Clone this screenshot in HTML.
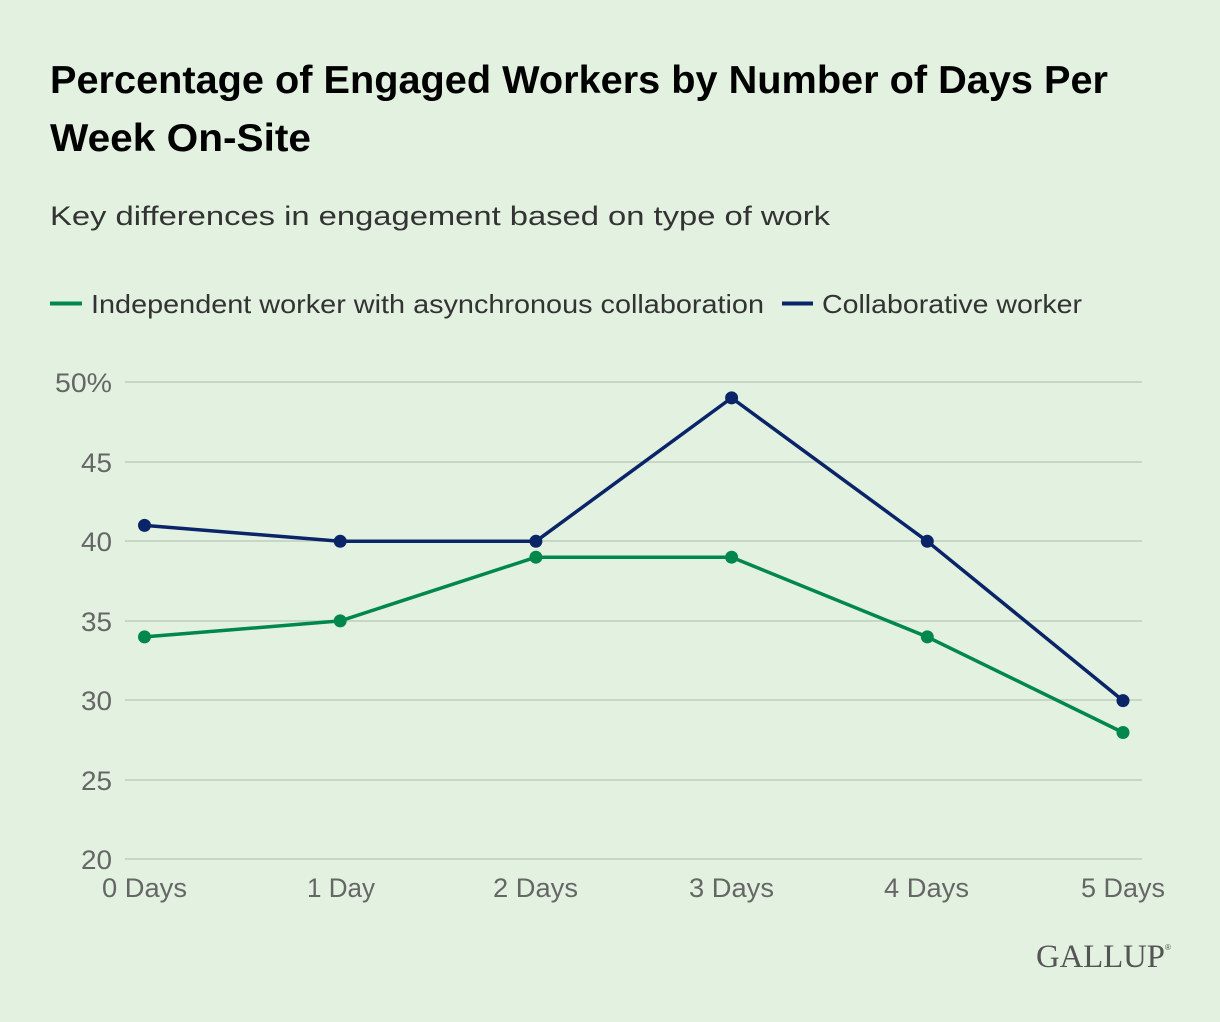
<!DOCTYPE html>
<html><head><meta charset="utf-8"><style>
html,body{margin:0;padding:0;background:#e3f1e1;}
svg{display:block;}
</style></head><body>
<svg width="1220" height="1022" viewBox="0 0 1220 1022" xmlns="http://www.w3.org/2000/svg" font-family="'Liberation Sans', sans-serif">
<rect width="1220" height="1022" fill="#e3f1e1"/>
<text x="50" y="93" font-size="38.5" font-weight="bold" fill="#000" textLength="1058" lengthAdjust="spacingAndGlyphs">Percentage of Engaged Workers by Number of Days Per</text>
<text x="50" y="151" font-size="38.5" font-weight="bold" fill="#000" textLength="261" lengthAdjust="spacingAndGlyphs">Week On-Site</text>
<text x="50" y="225" font-size="27" fill="#333" textLength="780" lengthAdjust="spacingAndGlyphs">Key differences in engagement based on type of work</text>
<line x1="50" y1="303.5" x2="82" y2="303.5" stroke="#00874b" stroke-width="4"/>
<text x="91" y="313" font-size="26" fill="#333" textLength="673" lengthAdjust="spacingAndGlyphs">Independent worker with asynchronous collaboration</text>
<line x1="782" y1="303.5" x2="813" y2="303.5" stroke="#0a2468" stroke-width="4"/>
<text x="822" y="313" font-size="26" fill="#333" textLength="260" lengthAdjust="spacingAndGlyphs">Collaborative worker</text>
<g stroke="#c8d6c6" stroke-width="2">
<line x1="125" y1="382" x2="1142" y2="382"/>
<line x1="125" y1="462" x2="1142" y2="462"/>
<line x1="125" y1="541" x2="1142" y2="541"/>
<line x1="125" y1="621" x2="1142" y2="621"/>
<line x1="125" y1="700" x2="1142" y2="700"/>
<line x1="125" y1="780" x2="1142" y2="780"/>
<line x1="125" y1="859" x2="1142" y2="859"/>
</g>
<g font-size="26.5" fill="#666" text-anchor="end">
<text x="112" y="392" textLength="57" lengthAdjust="spacingAndGlyphs">50%</text>
<text x="112" y="472" textLength="31" lengthAdjust="spacingAndGlyphs">45</text>
<text x="112" y="551" textLength="31" lengthAdjust="spacingAndGlyphs">40</text>
<text x="112" y="631" textLength="31" lengthAdjust="spacingAndGlyphs">35</text>
<text x="112" y="710" textLength="31" lengthAdjust="spacingAndGlyphs">30</text>
<text x="112" y="790" textLength="31" lengthAdjust="spacingAndGlyphs">25</text>
<text x="112" y="869" textLength="31" lengthAdjust="spacingAndGlyphs">20</text>
</g>
<g font-size="26.5" fill="#666">
<text x="102" y="897" textLength="85" lengthAdjust="spacingAndGlyphs">0 Days</text>
<text x="307" y="897" textLength="68" lengthAdjust="spacingAndGlyphs">1 Day</text>
<text x="493" y="897" textLength="85" lengthAdjust="spacingAndGlyphs">2 Days</text>
<text x="689" y="897" textLength="85" lengthAdjust="spacingAndGlyphs">3 Days</text>
<text x="884" y="897" textLength="85" lengthAdjust="spacingAndGlyphs">4 Days</text>
<text x="1081" y="897" textLength="84" lengthAdjust="spacingAndGlyphs">5 Days</text>
</g>
<polyline fill="none" stroke="#00874b" stroke-width="3.5" stroke-linejoin="round" points="144.5,636.9 340.2,620.9 535.9,557.2 731.6,557.2 927.3,636.9 1123,732.5"/>
<g fill="#00874b">
<circle cx="144.5" cy="636.9" r="6.5"/><circle cx="340.2" cy="620.9" r="6.5"/><circle cx="535.9" cy="557.2" r="6.5"/><circle cx="731.6" cy="557.2" r="6.5"/><circle cx="927.3" cy="636.9" r="6.5"/><circle cx="1123" cy="732.5" r="6.5"/>
</g>
<polyline fill="none" stroke="#0a2468" stroke-width="3.5" stroke-linejoin="round" points="144.5,525.4 340.2,541.3 535.9,541.3 731.6,397.9 927.3,541.3 1123,700.6"/>
<g fill="#0a2468">
<circle cx="144.5" cy="525.4" r="6.5"/><circle cx="340.2" cy="541.3" r="6.5"/><circle cx="535.9" cy="541.3" r="6.5"/><circle cx="731.6" cy="397.9" r="6.5"/><circle cx="927.3" cy="541.3" r="6.5"/><circle cx="1123" cy="700.6" r="6.5"/>
</g>
<text x="1036" y="967" font-family="'Liberation Serif', serif" font-size="33" fill="#555" textLength="129" lengthAdjust="spacingAndGlyphs">GALLUP</text>
<text x="1165" y="950" font-family="'Liberation Sans', sans-serif" font-size="8" fill="#555">®</text>
</svg>
</body></html>
